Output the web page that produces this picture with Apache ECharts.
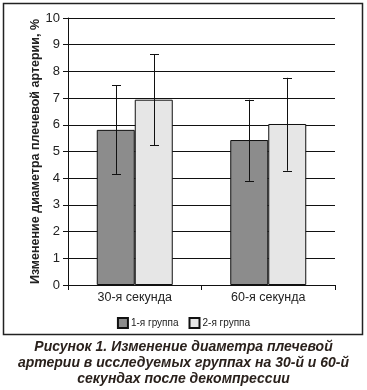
<!DOCTYPE html>
<html><head><meta charset="utf-8">
<script src="https://cdn.jsdelivr.net/npm/echarts@6/dist/echarts.min.js"></script>
<style>html,body{margin:0;padding:0;background:#fff}#c{width:367px;height:390px}</style>
</head><body><div id="c"></div>
<script>
const categories = ['30-я секунда', '60-я секунда'];
const seriesNames = ['1-я группа', '2-я группа'];
const group1 = [5.81, 5.43];
const group2 = [6.94, 6.03];
const group1Low = [4.16, 3.90];
const group1High = [7.49, 6.94];
const group2Low = [5.24, 4.28];
const group2High = [8.65, 7.76];
const yTicks = [0,1,2,3,4,5,6,7,8,9,10];

const BAR_W = 38;
function errSeries(low, high, side) {
  return {
    type: 'custom',
    silent: true,
    z: 5,
    data: low.map((l, i) => [i, l, high[i]]),
    renderItem: function (params, api) {
      const lo = api.coord([api.value(0), api.value(1)]);
      const hi = api.coord([api.value(0), api.value(2)]);
      const x = Math.round(lo[0] + side * BAR_W / 2) + 0.5;
      const cap = 4.5;
      const st = {stroke: '#111', lineWidth: 1};
      return {type: 'group', children: [
        {type: 'line', shape: {x1: x, y1: lo[1], x2: x, y2: hi[1]}, style: st},
        {type: 'line', shape: {x1: x - cap, y1: Math.round(hi[1]) + 0.5, x2: x + cap, y2: Math.round(hi[1]) + 0.5}, style: st},
        {type: 'line', shape: {x1: x - cap, y1: Math.round(lo[1]) + 0.5, x2: x + cap, y2: Math.round(lo[1]) + 0.5}, style: st}
      ]};
    }
  };
}

const chart = echarts.init(document.getElementById('c'), null, {renderer: 'canvas'});
chart.setOption({
  animation: false,
  textStyle: {fontFamily: 'Liberation Sans, Arial, sans-serif'},
  grid: {left: 68, right: 32, top: 18, bottom: 105},
  title: {
    text: 'Рисунок 1. Изменение диаметра плечевой\nартерии в исследуемых группах на 30-й и 60-й\nсекундах после декомпрессии',
    left: 'center', top: 339, padding: 0,
    textStyle: {fontFamily: 'Liberation Sans, Arial, sans-serif', fontSize: 14, fontWeight: 'bold', fontStyle: 'italic', color: '#2a211c', lineHeight: 16, align: 'center'}
  },
  legend: {
    data: seriesNames,
    top: 312, left: 'center',
    itemWidth: 10, itemHeight: 10, itemGap: 10,
    icon: 'rect',
    textStyle: {fontSize: 10, color: '#222', padding: [0, 0, 0, -2]}
  },
  xAxis: {
    type: 'category', data: categories,
    axisLine: {lineStyle: {color: '#111', width: 1}},
    axisTick: {show: true, length: 5, lineStyle: {color: '#111'}},
    axisLabel: {color: '#222', fontSize: 12.5, margin: 6}
  },
  yAxis: {
    type: 'value', min: 0, max: 10, interval: 1,
    name: 'Изменение диаметра плечевой артерии, %',
    nameLocation: 'middle', nameGap: 26, nameRotate: 90, nameMoveOverlap: false,
    nameTextStyle: {fontSize: 12.5, fontWeight: 'bold', color: '#222'},
    axisLine: {show: true, lineStyle: {color: '#111'}},
    axisTick: {show: true, length: 5, lineStyle: {color: '#111'}},
    axisLabel: {color: '#222', fontSize: 13, margin: 8, formatter: v => yTicks.includes(v) ? String(v) : ''},
    splitLine: {lineStyle: {color: '#111', width: 1}}
  },
  series: [
    {name: seriesNames[0], type: 'bar', data: group1, barWidth: BAR_W, barGap: '0%',
     itemStyle: {color: '#8c8c8c', borderColor: '#111', borderWidth: 1}},
    {name: seriesNames[1], type: 'bar', data: group2, barWidth: BAR_W, barGap: '0%',
     itemStyle: {color: '#e6e6e6', borderColor: '#111', borderWidth: 1}},
    errSeries(group1Low, group1High, -1),
    errSeries(group2Low, group2High, 1)
  ],
  graphic: [{type: 'rect', shape: {x: 3.5, y: 3.5, width: 359, height: 331}, style: {fill: 'none', stroke: '#222', lineWidth: 1.5}, silent: true}]
});
</script></body></html>
